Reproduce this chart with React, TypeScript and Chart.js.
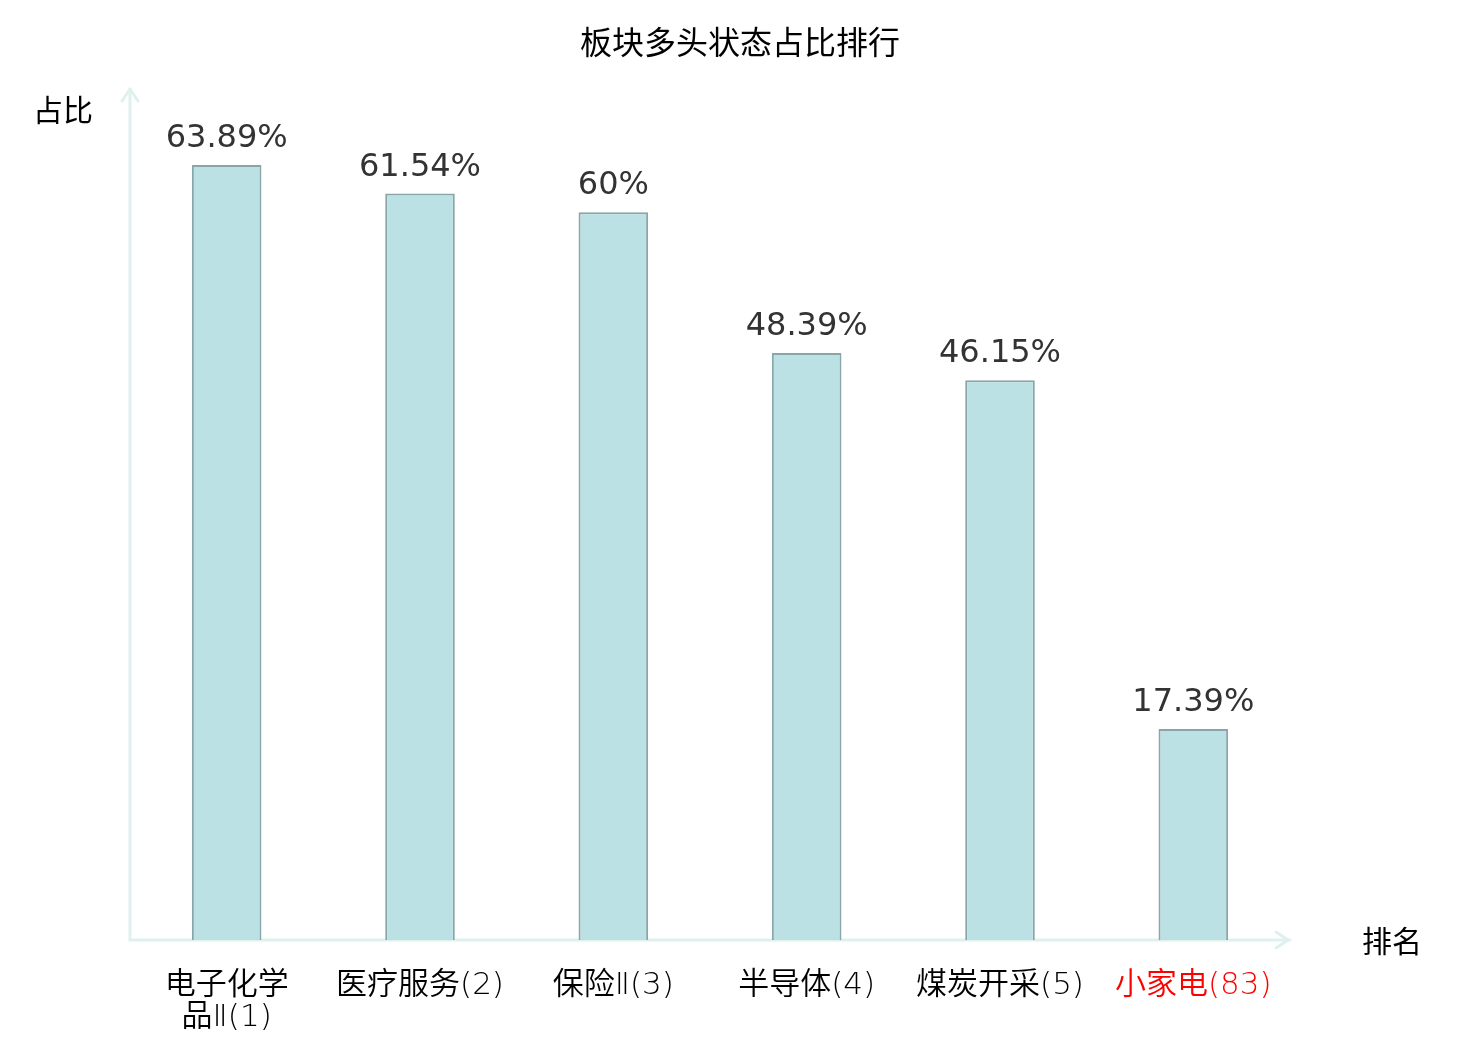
import React, { useEffect, useRef } from "react";
import { Chart, registerables } from "chart.js";

Chart.register(...registerables);

const categories: string[][] = [
  ["电子化学", "品Ⅱ(1)"],
  ["医疗服务(2)"],
  ["保险Ⅱ(3)"],
  ["半导体(4)"],
  ["煤炭开采(5)"],
  ["小家电(83)"],
];
const values: number[] = [63.89, 61.54, 60, 48.39, 46.15, 17.39];
const valueLabels: string[] = ["63.89%", "61.54%", "60%", "48.39%", "46.15%", "17.39%"];
const tickColors: string[] = ["#000000", "#000000", "#000000", "#000000", "#000000", "#ff0000"];
const yMax = 70;
const titleText = "板块多头状态占比排行";
const yName = "占比";
const xName = "排名";

const CJK = '"Noto Sans CJK SC", "DejaVu Sans", sans-serif';
const NUM = '"DejaVu Sans", "Noto Sans CJK SC", sans-serif';
const TICKFONT = '"DejaVu Sans", "Noto Sans CJK SC", sans-serif';
const AXIS_COLOR = "#dff1ef";

const axisPlugin = {
  id: "axisArrows",
  beforeDatasetsDraw(chart: any) {
    const { ctx, chartArea, width } = chart;
    const { left, right, top, bottom } = chartArea;
    ctx.save();
    // title
    ctx.fillStyle = "#000000";
    ctx.font = `32px ${CJK}`;
    ctx.textAlign = "center";
    ctx.textBaseline = "middle";
    ctx.fillText(titleText, width / 2, 42);

    ctx.strokeStyle = AXIS_COLOR;
    ctx.lineWidth = 3;
    ctx.lineCap = "round";
    ctx.lineJoin = "round";
    // y axis
    ctx.beginPath();
    ctx.moveTo(left, bottom);
    ctx.lineTo(left, top - 2);
    ctx.stroke();
    ctx.beginPath();
    ctx.moveTo(left - 8, top + 10);
    ctx.lineTo(left, top - 2);
    ctx.lineTo(left + 8, top + 10);
    ctx.stroke();
    // x axis
    ctx.beginPath();
    ctx.moveTo(left, bottom);
    ctx.lineTo(right, bottom);
    ctx.stroke();
    ctx.beginPath();
    ctx.moveTo(right - 14, bottom - 8);
    ctx.lineTo(right - 2, bottom);
    ctx.lineTo(right - 14, bottom + 8);
    ctx.stroke();
    // axis names
    ctx.fillStyle = "#000000";
    ctx.font = `30px ${CJK}`;
    ctx.textAlign = "right";
    ctx.textBaseline = "middle";
    ctx.fillText(yName, left - 37, top + 19);
    ctx.textAlign = "left";
    ctx.fillText(xName, right + 72, bottom + 1);
    ctx.restore();
  },
  afterDatasetsDraw(chart: any) {
    const { ctx } = chart;
    const meta = chart.getDatasetMeta(0);
    ctx.save();
    ctx.fillStyle = "#333333";
    ctx.font = `32px ${NUM}`;
    ctx.textAlign = "center";
    ctx.textBaseline = "alphabetic";
    meta.data.forEach((bar: any, i: number) => {
      ctx.fillText(valueLabels[i], bar.x, bar.y - 18);
    });
    ctx.restore();
  },
};

export default function App() {
  const ref = useRef<HTMLCanvasElement | null>(null);
  useEffect(() => {
    document.body.style.margin = "0";
    const canvas = ref.current!;
    const chart = new Chart(canvas, {
      type: "bar",
      data: {
        labels: categories,
        datasets: [
          {
            data: values,
            backgroundColor: "#bce1e4",
            borderColor: "#88a5a7",
            borderWidth: 2,
            barPercentage: 0.72,
            categoryPercentage: 0.5,
          },
        ],
      },
      options: {
        responsive: false,
        animation: false,
        devicePixelRatio: 1,
        layout: { padding: { left: 130, right: 190, top: 91, bottom: 0 } },
        plugins: {
          legend: { display: false },
          tooltip: { enabled: false },
          title: { display: false },
        },
        scales: {
          x: {
            grid: { display: false, drawTicks: false },
            border: { display: false },
            afterFit(scale: any) {
              scale.height = 100;
            },
            ticks: {
              color: tickColors,
              font: { family: TICKFONT, size: 31, weight: 350, lineHeight: 1.03 },
              padding: 30,
              maxRotation: 0,
              autoSkip: false,
            },
          },
          y: {
            display: false,
            min: 0,
            max: yMax,
          },
        },
      },
      plugins: [axisPlugin],
    });
    return () => chart.destroy();
  }, []);
  return <canvas ref={ref} width={1480} height={1040} style={{ display: "block" }} />;
}
